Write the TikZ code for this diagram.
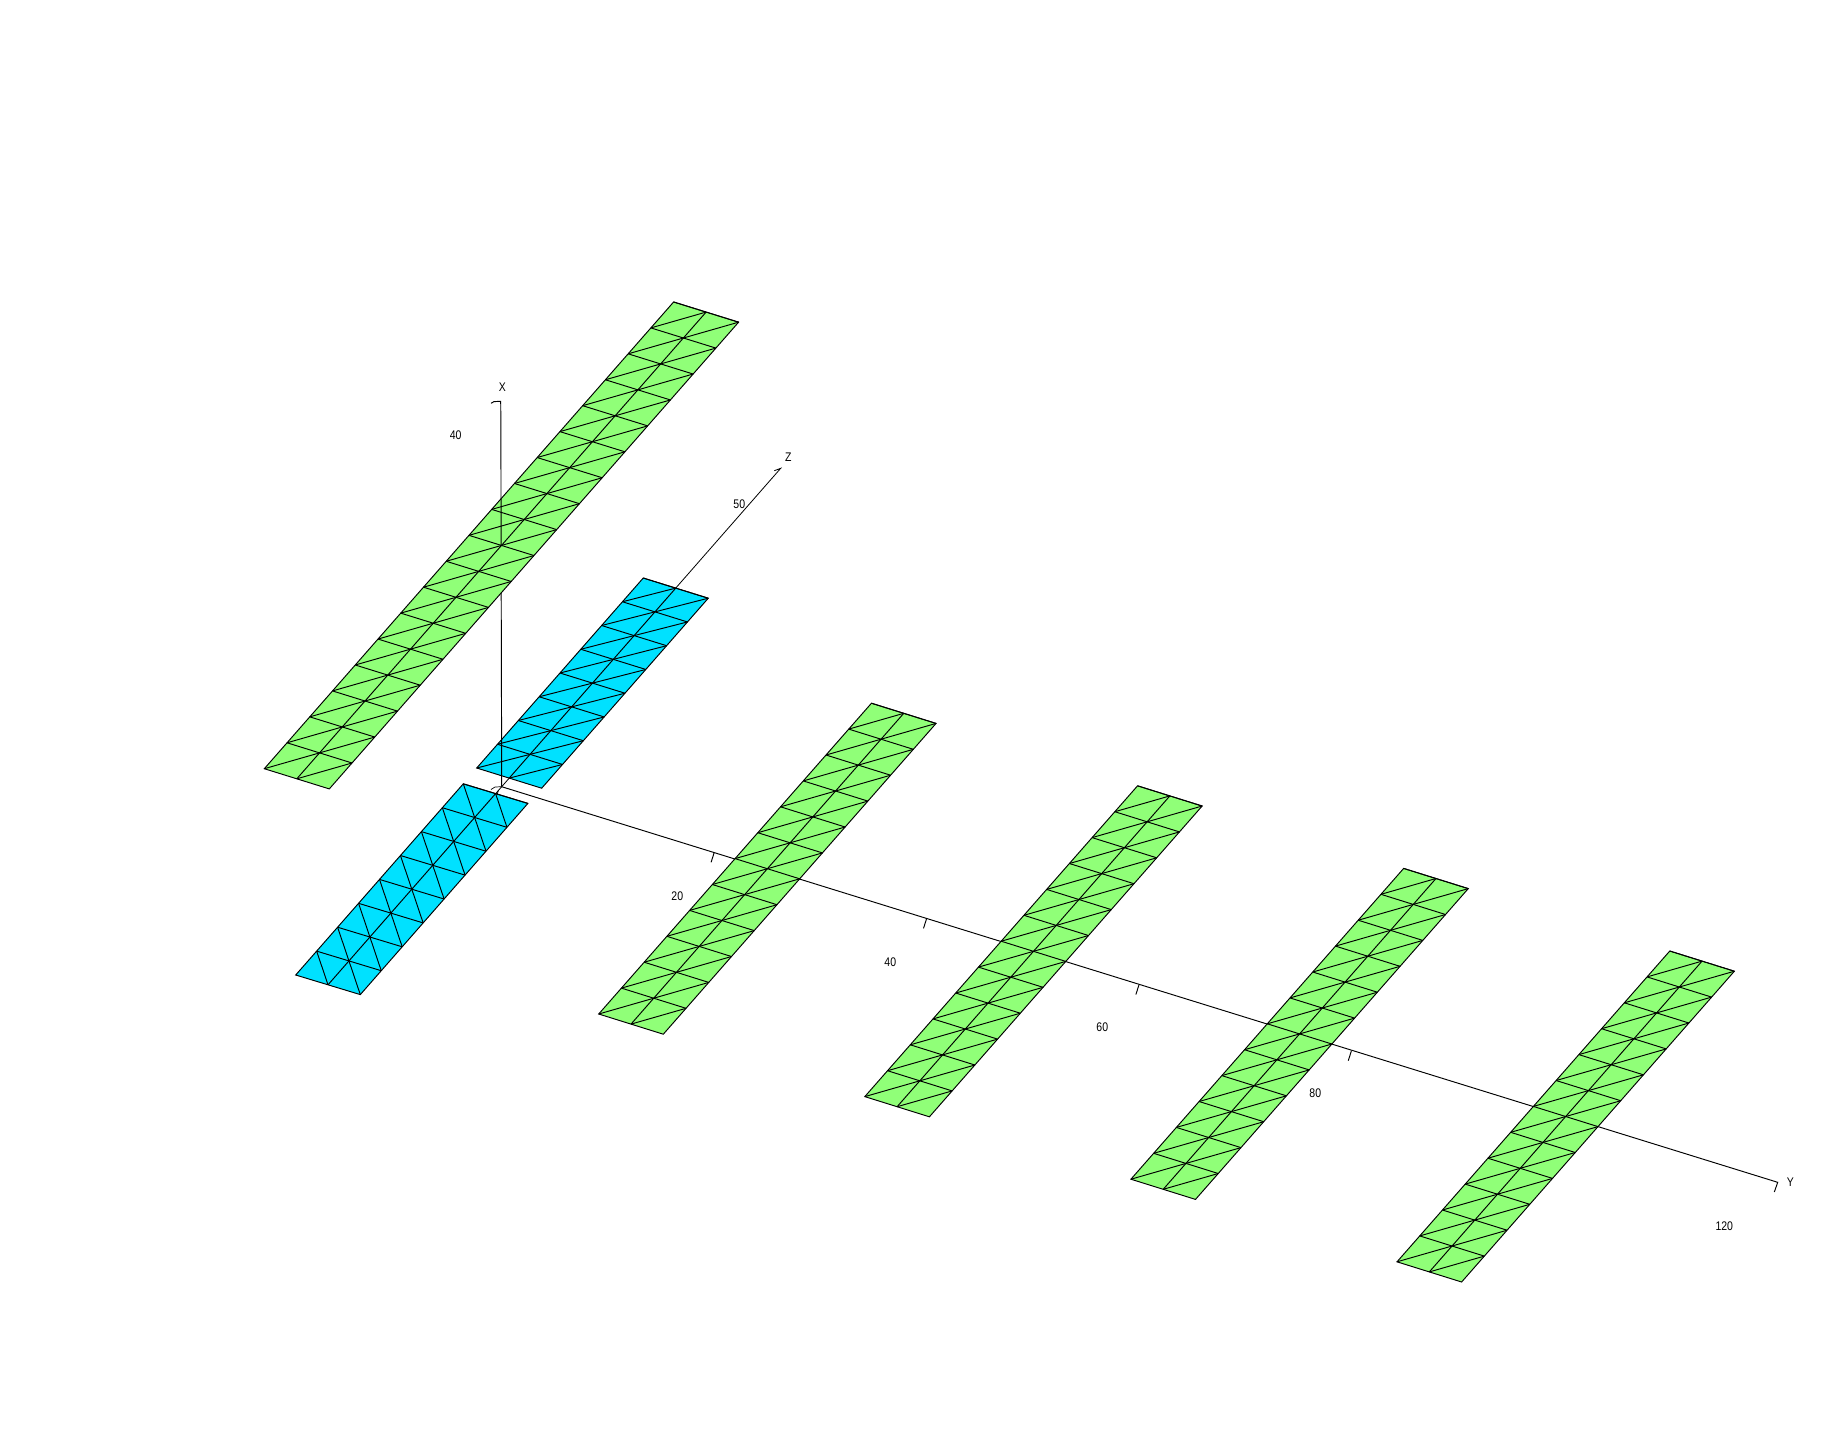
\documentclass[tikz,border=0pt]{standalone}
\usepackage{fontspec}
\usetikzlibrary{calc}
\setmainfont{Liberation Sans}
\definecolor{stripgreen}{RGB}{144,255,120}
\definecolor{stripblue}{RGB}{0,225,255}
\tikzset{
  mesh/.style={line width=0.95pt,black,line join=miter},
  axisline/.style={line width=0.95pt,black},
  lab/.style={font=\fontsize{12.5pt}{13pt}\selectfont,inner sep=0pt,transform shape,xscale=.84,text=black},
}
% #1,#2 bottom-left corner; #3,#4 half-width vector; #5,#6 one-row vector;
% #7 rows; #8 colour; #9 diagonal: 1 = rising, 0 = falling
\newcommand{\meshstrip}[9]{%
  \begin{scope}[shift={(#1,#2)},x={(#3pt,#4pt)},y={(#5pt,#6pt)}]
    \fill[#8] (0,0)--(2,0)--(2,#7)--(0,#7)--cycle;
    \draw[mesh] (0,0)--(2,0)--(2,#7)--(0,#7)--cycle;
    \draw[mesh] (1,0)--(1,#7);
    \foreach \r in {1,...,#7}{\draw[mesh] (0,\r)--(2,\r);}
    \pgfmathtruncatemacro{\last}{#7-1}
    \foreach \r in {0,...,\last}{
      \pgfmathtruncatemacro{\up}{\r+1}
      \foreach \c/\d in {0/1,1/2}{
        \ifnum#9=1 \draw[mesh] (\c,\r)--(\d,\up);
        \else \draw[mesh] (\c,\up)--(\d,\r);\fi
      }
    }
  \end{scope}}
\begin{document}
\begin{tikzpicture}[x=1pt,y=-1pt]
\useasboundingbox (0,0) rectangle (1845,1452);
\fill[white] (0,0) rectangle (1845,1452);

\coordinate (origin) at (501.7,786.7);
\coordinate (ytip) at (1777.7,1182.3);
\coordinate (ztip) at (780.7,468.3);
\coordinate (zback) at (495.3,794);
\coordinate (xtip) at (500.7,401.3);
\coordinate (xstep) at (500.9,428.7);
\coordinate (xhide) at (501.1,546);
\coordinate (xshow) at (501.2,593);

% axes behind the strips
\draw[axisline] (origin)--(ytip)--(1774.3,1192);
\draw[axisline,line width=.8pt] (zback)--(origin)--(ztip)--(774.3,470.7);
\foreach \k in {1,2,3,4}{
  \draw[axisline] ($(origin)+\k*(212.4,66.1)$)--++(-3,9.5);
}

% strips
\meshstrip{264.3}{768.7}{32.5}{-10.1}{22.74}{25.93}{18}{stripgreen}{1}
\meshstrip{476.7}{768}{32.5}{-10.1}{20.82}{23.75}{8}{stripblue}{1}
\meshstrip{295.7}{975}{32.3}{-9.8}{20.95}{23.9}{8}{stripblue}{0}
\foreach \k in {0,1,2,3}{
  \pgfmathsetmacro{\bx}{598.7+266.1*\k}
  \pgfmathsetmacro{\by}{1014+82.6*\k}
  \meshstrip{\bx}{\by}{32.3}{-10.1}{22.73}{25.9}{12}{stripgreen}{1}
}

% parts of the X axis that show in front
\draw[axisline] (491,403.3)--(494,401.6)--(xtip)--(xstep)--(xhide);
\draw[axisline] (xshow)--(origin);
\draw[axisline,line width=.7pt] (491,789.5)--(495,787)--(origin);
\draw[axisline,line width=.7pt] (498.5,790)--(497,795);

% labels
\node[lab] (xlabel) at (502.3,386.7) {X};
\node[lab] (ylabel) at (1790.3,1181.7) {Y};
\node[lab] (zlabel) at (788.3,457.3) {Z};
\node[lab] (x40) at (455.7,434.7) {40};
\node[lab] (z50) at (739.3,504.3) {50};
\node[lab] (y20) at (677.3,895.7) {20};
\node[lab] (y40) at (890.3,961.7) {40};
\node[lab] (y60) at (1102.3,1027.3) {60};
\node[lab] (y80) at (1315.3,1093.3) {80};
\node[lab] (y120) at (1724.3,1225.7) {120};
\end{tikzpicture}
\end{document}
